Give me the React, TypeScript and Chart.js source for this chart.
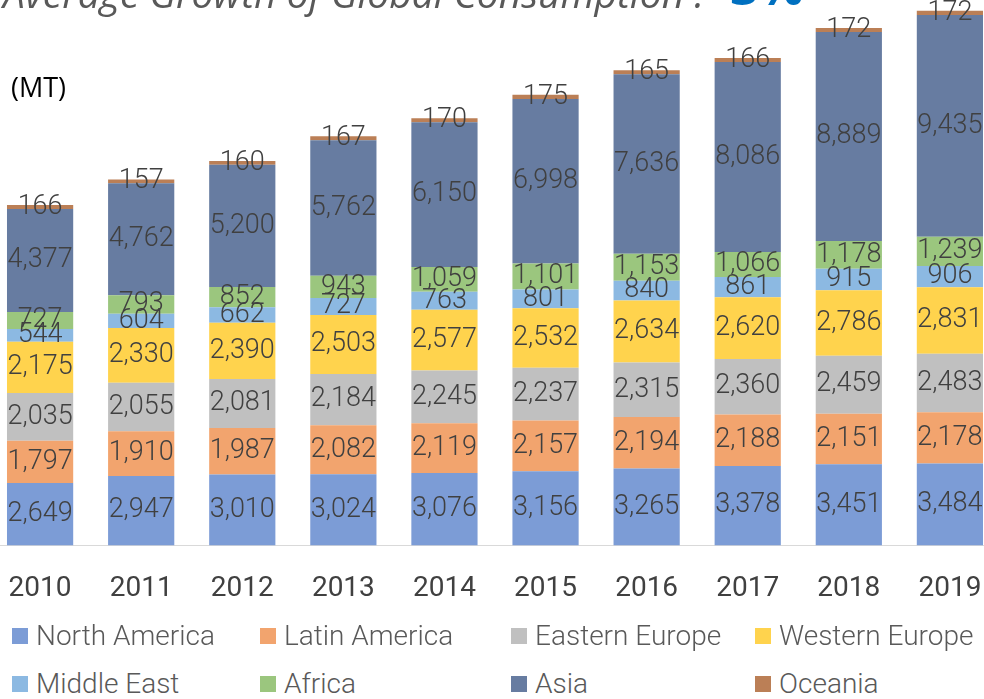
import React, { useEffect, useRef } from "react";
import { Chart, registerables } from "chart.js";

Chart.register(...registerables);

const years = ["2010", "2011", "2012", "2013", "2014", "2015", "2016", "2017", "2018", "2019"];

const northAmerica = [2649, 2947, 3010, 3024, 3076, 3156, 3265, 3378, 3451, 3484];
const latinAmerica = [1797, 1910, 1987, 2082, 2119, 2157, 2194, 2188, 2151, 2178];
const easternEurope = [2035, 2055, 2081, 2184, 2245, 2237, 2315, 2360, 2459, 2483];
const westernEurope = [2175, 2330, 2390, 2503, 2577, 2532, 2634, 2620, 2786, 2831];
const middleEast = [544, 604, 662, 727, 763, 801, 840, 861, 915, 906];
const africa = [727, 793, 852, 943, 1059, 1101, 1153, 1066, 1178, 1239];
const asia = [4377, 4762, 5200, 5762, 6150, 6998, 7636, 8086, 8889, 9435];
const oceania = [166, 157, 160, 167, 170, 175, 165, 166, 172, 172];

const seriesNames = [
  "North America",
  "Latin America",
  "Eastern Europe",
  "Western Europe",
  "Middle East",
  "Africa",
  "Asia",
  "Oceania",
];
const seriesValues = [northAmerica, latinAmerica, easternEurope, westernEurope, middleEast, africa, asia, oceania];
const seriesColors = ["#7C9CD6", "#F2A46E", "#C0C0C0", "#FFD34D", "#8CB9E2", "#9BC67E", "#677CA1", "#BB7F56"];

const titleText = "Average Growth of Global Consumption :";
const titleValue = "3%";
const unitText = "(MT)";

const fmt = (v: number) => v.toLocaleString("en-US");

const segLabels = {
  id: "segLabels",
  afterDatasetsDraw(chart: any) {
    const ctx = chart.ctx;
    ctx.save();
    ctx.font = "300 27px Roboto";
    ctx.fillStyle = "#404040";
    ctx.textAlign = "center";
    ctx.textBaseline = "middle";
    chart.data.datasets.forEach((ds: any, i: number) => {
      const meta = chart.getDatasetMeta(i);
      meta.data.forEach((el: any, j: number) => {
        const p = el.getProps(["x", "y", "base"], true);
        ctx.fillText(fmt(ds.data[j]), p.x, (p.y + p.base) / 2);
      });
    });
    ctx.restore();
  },
};

const legendCols = [12, 260, 511, 755];
const legendRows = [628, 676];

export default function App() {
  const ref = useRef<HTMLCanvasElement | null>(null);

  useEffect(() => {
    if (!ref.current) return;
    const chart = new Chart(ref.current, {
      type: "bar",
      data: {
        labels: years,
        datasets: seriesNames.map((name, i) => ({
          label: name,
          data: seriesValues[i],
          backgroundColor: seriesColors[i],
          borderWidth: 0,
          barPercentage: 0.655,
          categoryPercentage: 1,
        })),
      },
      options: {
        responsive: false,
        animation: false,
        layout: { padding: 0 },
        plugins: {
          legend: { display: false },
          title: { display: false },
          tooltip: { enabled: false },
        },
        scales: {
          x: {
            stacked: true,
            grid: { display: false, drawTicks: false },
            border: { display: true, color: "#D9D9D9", width: 1 },
            ticks: {
              color: "#404040",
              font: { family: "Roboto", size: 28 },
              padding: 27,
              maxRotation: 0,
              autoSkip: false,
            },
          },
          y: {
            stacked: true,
            display: false,
            min: 0,
            max: 23190,
          },
        },
      },
      plugins: [segLabels],
    });
    return () => chart.destroy();
  }, []);

  return (
    <div
      style={{
        position: "fixed",
        left: 0,
        top: 0,
        width: 984,
        height: 699,
        overflow: "hidden",
        background: "#fff",
      }}
    >
      <canvas
        ref={ref}
        width={1026}
        height={633}
        style={{ position: "absolute", left: -18, top: 0, width: 1026, height: 633 }}
      />
      <div
        style={{
          position: "absolute",
          left: 3,
          top: -27,
          fontFamily: "'Open Sans', sans-serif",
          fontStyle: "italic",
          fontSize: 39,
          lineHeight: "40px",
          color: "#595959",
          whiteSpace: "nowrap",
        }}
      >
        {titleText}
      </div>
      <div
        style={{
          position: "absolute",
          left: 730,
          top: -39,
          fontFamily: "'Open Sans', sans-serif",
          fontWeight: 700,
          fontSize: 50,
          lineHeight: "50px",
          color: "#0070C0",
          whiteSpace: "nowrap",
        }}
      >
        {titleValue}
      </div>
      <div
        style={{
          position: "absolute",
          left: 11,
          top: 73,
          fontFamily: "'Open Sans', sans-serif",
          fontSize: 27,
          lineHeight: "28px",
          color: "#000",
        }}
      >
        {unitText}
      </div>
      {seriesNames.map((name, i) => (
        <div
          key={name}
          style={{
            position: "absolute",
            left: legendCols[i % 4],
            top: legendRows[Math.floor(i / 4)] - 9,
            height: 34,
            display: "flex",
            alignItems: "center",
            whiteSpace: "nowrap",
          }}
        >
          <span
            style={{
              display: "inline-block",
              width: 16,
              height: 16,
              background: seriesColors[i],
              marginRight: 8,
            }}
          />
          <span
            style={{
              fontFamily: "Roboto, sans-serif",
              fontWeight: 300,
              fontSize: 28,
              lineHeight: "34px",
              color: "#595959",
            }}
          >
            {name}
          </span>
        </div>
      ))}
    </div>
  );
}
